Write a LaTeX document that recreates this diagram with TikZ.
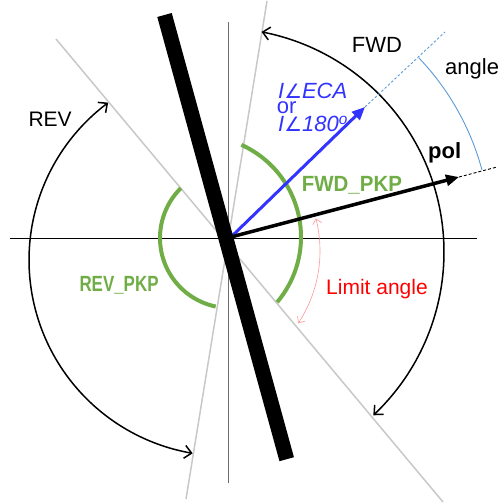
\documentclass[tikz,border=0pt]{standalone}
\usepackage{fontspec}
\setmainfont{Liberation Sans}
\newfontfamily\dejavu{DejaVu Sans}
\usetikzlibrary{arrows.meta}
\definecolor{pkpgreen}{RGB}{112,173,71}
\definecolor{vblue}{RGB}{51,51,255}
\definecolor{angblue}{RGB}{91,155,213}
\definecolor{limred}{RGB}{255,0,0}
\definecolor{limpink}{RGB}{255,150,150}
\definecolor{refgray}{RGB}{200,200,200}
\definecolor{axgray}{RGB}{110,110,110}
\newcommand{\angsym}{{\dejavu\itshape\scalebox{0.9}{∠}}}
\begin{document}
\begin{tikzpicture}[x=1pt,y=-1pt,
  lbl/.style={font=\fontsize{21}{21}\selectfont, inner sep=0pt, anchor=base west},
  biglbl/.style={lbl, font=\fontsize{22}{22}\selectfont},
  refline/.style={draw=refgray, line width=1.5pt},
  pkparc/.style={draw=pkpgreen, line width=4pt},
  bigarc/.style={draw=black, line width=1.5pt, {Straight Barb[length=7pt,width=13pt]}-{Straight Barb[length=7pt,width=13pt]}},
  vec/.style={line width=3pt, -{Triangle[length=13pt,width=11pt]}}
]
\useasboundingbox (0,0) rectangle (501,503);
\coordinate (O) at (231,237);
% reference lines
\coordinate (ra1) at (56,39);   \coordinate (ra2) at (443,502);
\coordinate (rb1) at (267,1);   \coordinate (rb2) at (186,499);
\draw[refline] (ra1) -- (ra2);
\draw[refline] (rb1) -- (rb2);
% axes
\coordinate (hx1) at (10,238);  \coordinate (hx2) at (477,238);
\coordinate (vy1) at (228,22);  \coordinate (vy2) at (228,483);
\draw[line width=1pt] (hx1) -- (hx2);
\draw[axgray, line width=1pt] (vy1) -- (vy2);
% green pickup arcs
\draw[pkparc] plot[domain=-65.8:40.2, samples=60] ({200+101*cos(\x)},{237+101*sin(\x)});
\draw[pkparc] plot[domain=101.8:225.4, samples=60] ({230+70*cos(\x)},{238+70*sin(\x)});
% big FWD / REV arcs
\draw[bigarc] plot[domain=-79.3:46.8, samples=100] ({220+224*cos(\x)},{252+224*sin(\x)});
\draw[bigarc] plot[domain=233.4:99.5, samples=100] ({225+196*cos(\x)},{260+196*sin(\x)});
% limit angle arc
\draw[limpink, line width=0.6pt, {Straight Barb[length=5pt,width=9pt]}-{Straight Barb[length=5pt,width=9pt]}]
  plot[domain=-14.4:33.5, samples=60] ({189+131*cos(\x)},{251+131*sin(\x)});
% angle arc
\draw[angblue, line width=0.9pt] plot[domain=-43.7:-15.1, samples=60] ({230+261*cos(\x)},{238+261*sin(\x)});
% vectors
\coordinate (ecatip) at (365,107); \coordinate (ecaend) at (445,32);
\coordinate (poltip) at (459,177); \coordinate (polend) at (497,167);
\draw[angblue, line width=0.9pt, dash pattern=on 2.5pt off 2pt] (ecatip) -- (ecaend);
\draw[black, line width=0.9pt, dash pattern=on 3pt off 2pt] (poltip) -- (polend);
\draw[vec, vblue] (O) -- (ecatip);
\draw[vec, black, line width=3.5pt] (O) -- (poltip);
% thick bar
\coordinate (bar1) at (164.5,15); \coordinate (bar2) at (286.7,459.2);
\draw[line width=15pt] (bar1) -- (bar2);
% labels
\node[biglbl] (fwd) at (351.7,52.7) {FWD};
\node[biglbl] (ang) at (445,74.5) {angle};
\node[lbl] (rev) at (28.3,126.7) {REV};
\node[biglbl, font=\fontsize{22}{22}\selectfont\bfseries] (pol) at (428,158) {pol};
\node[biglbl, text=vblue] (eca) at (278,98.3) {\itshape I\angsym ECA};
\node[biglbl, text=vblue] (or) at (276.7,113.8) {or};
\node[biglbl, text=vblue] (deg) at (278,131.7) {\itshape I\angsym 180\textsuperscript{o}};
\node[lbl, text=pkpgreen, font=\fontsize{22}{22}\selectfont\bfseries] (fpkp) at (301.7,191.7) {\scalebox{0.93}[1]{FWD\_PKP}};
\node[lbl, text=pkpgreen, font=\fontsize{22}{22}\selectfont\bfseries] (rpkp) at (79.3,291.5) {\scalebox{0.77}[1]{REV\_PKP}};
\node[lbl, text=limred] (lim) at (326,294) {Limit angle};
\end{tikzpicture}
\end{document}
